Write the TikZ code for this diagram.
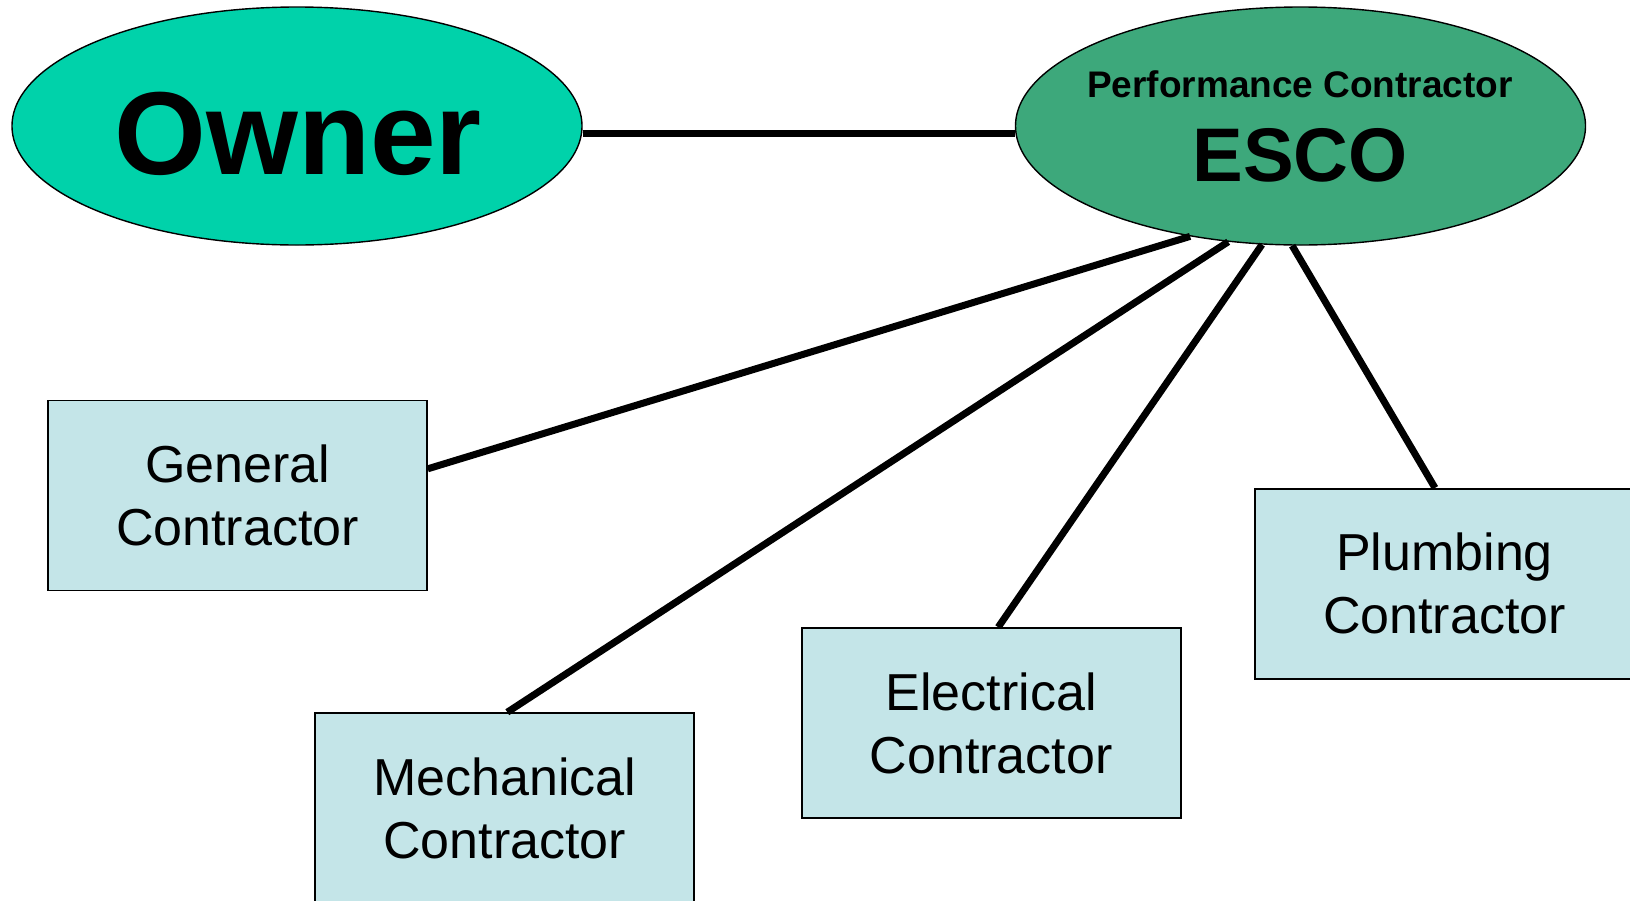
\documentclass[tikz,border=0pt]{standalone}
\usepackage{fontspec}
\setmainfont{Liberation Sans}
\usetikzlibrary{shapes.geometric}
\definecolor{ownerfill}{HTML}{00D2AA}
\definecolor{escofill}{HTML}{3DA87B}
\definecolor{boxfill}{HTML}{C4E5E8}
\begin{document}
\begin{tikzpicture}[x=1pt,y=-1pt,
  oval/.style={ellipse, draw=black, line width=1.4pt, minimum width=570pt, minimum height=238pt, inner sep=0pt},
  subbox/.style={rectangle, draw=black, line width=1.6pt, fill=boxfill, minimum width=379pt, minimum height=190pt, align=center, inner sep=0pt, font=\fontsize{52}{63}\selectfont},
  link/.style={line width=7pt},
  lbl/.style={anchor=base, inner sep=0pt}]
\useasboundingbox (0,0) rectangle (1630,900);
% ellipses
\node[oval, fill=ownerfill] (owner) at (297,126) {};
\node[oval, fill=escofill] (esco) at (1300.5,126) {};
\node[lbl, font=\bfseries\fontsize{118}{118}\selectfont] (ownertxt) at (298,174.6) {Owner};
\node[lbl, font=\bfseries\fontsize{37}{37}\selectfont] (escotop) at (1300,97) {Performance Contractor};
\node[lbl, font=\bfseries\fontsize{76}{76}\selectfont] (escotxt) at (1300,181) {ESCO};
% boxes
\node[subbox] (gen) at (237.5,495.3) {General\\Contractor};
\node[subbox] (mech) at (504.7,808) {Mechanical\\Contractor};
\node[subbox] (elec) at (991.2,723) {Electrical\\Contractor};
\node[subbox] (plumb) at (1444.5,583.7) {Plumbing\\Contractor};
% connectors
\draw[link] ([yshift=-7pt]owner.east) -- ([yshift=-7pt]esco.west);
\draw[link] (esco.225.4) -- ([yshift=26.5pt]gen.east);
\draw[link] (esco.238.4) -- ([xshift=2.6pt]mech.north);
\draw[link] (esco.252.4) -- ([xshift=7pt]elec.north);
\draw[link] (esco.266.9) -- ([xshift=-9.5pt]plumb.north);
\end{tikzpicture}
\end{document}
